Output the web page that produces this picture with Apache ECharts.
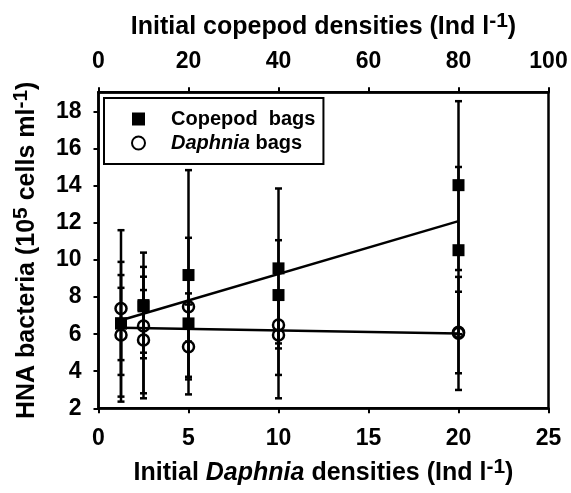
<!DOCTYPE html>
<html>
<head>
<meta charset="utf-8">
<script src="https://cdn.jsdelivr.net/npm/echarts@6/dist/echarts.min.js"></script>
<style>
  html, body { margin: 0; padding: 0; background: #fff; }
  #chart { width: 571px; height: 493px; }
</style>
</head>
<body>
<div id="chart"></div>
<script>
// copepod bags (top axis, Ind l-1)
var copepodDens = [5, 5, 10, 10, 20, 20, 40, 40, 80, 80];
var copepodVals = [6.58, 6.58, 7.57, 7.5, 9.19, 6.58, 9.55, 8.11, 14.04, 10.53];
var copepodLow  = [3.80, 4.60, 4.70, 5.0, 3.56, 5.6, 5.23, 5.50, 9.46, 6.0];
var copepodHigh = [9.90, 8.50, 10.40, 9.10, 14.85, 7.6, 13.86, 11.07, 18.57, 15.02];
var copepodFit  = [[5, 6.75], [80, 12.1]];

// Daphnia bags (bottom axis, Ind l-1)
var daphniaDens = [1.25, 1.25, 2.5, 2.5, 5, 5, 10, 10, 20, 20];
var daphniaVals = [7.39, 5.95, 6.44, 5.68, 7.48, 5.32, 6.49, 5.95, 6.10, 6.05];
var daphniaLow  = [2.63, 2.36, 2.54, 2.81, 3.70, 2.75, 2.54, 3.80, 2.99, 3.89];
var daphniaHigh = [11.61, 9.19, 9.63, 8.38, 11.20, 8.20, 8.10, 8.10, 9.09, 8.29];
var daphniaFit  = [[1.25, 6.35], [20, 6.04]];

var yTicks = [2, 4, 6, 8, 10, 12, 14, 16, 18];

var chart = echarts.init(document.getElementById('chart'));

function zip2(a, b) {
    return a.map(function (v, i) { return [v, b[i]]; });
}
function zip3(a, b, c) {
    return a.map(function (v, i) { return [v, b[i], c[i]]; });
}

var FONT = 'Liberation Sans, Arial, sans-serif';
var sup = { fontSize: 21, fontWeight: 'bold', fontFamily: FONT, color: '#000', padding: [0, 0, 12, 0] };

function renderErr(params, api) {
    var x = api.value(0);
    var lo = api.coord([x, api.value(1)]);
    var hi = api.coord([x, api.value(2)]);
    var w = 3.5;
    var st = { stroke: '#000', lineWidth: 2.5 };
    return {
        type: 'group',
        children: [
            { type: 'line', shape: { x1: hi[0], y1: hi[1], x2: lo[0], y2: lo[1] }, style: st },
            { type: 'line', shape: { x1: hi[0] - w, y1: hi[1], x2: hi[0] + w, y2: hi[1] }, style: st },
            { type: 'line', shape: { x1: lo[0] - w, y1: lo[1], x2: lo[0] + w, y2: lo[1] }, style: st }
        ]
    };
}

var axisLine = { show: true, lineStyle: { color: '#000', width: 2.5 } };
var axisTick = { show: true, inside: false, length: 5, lineStyle: { color: '#000', width: 2 } };
var labelStyle = { color: '#000', fontSize: 23, fontWeight: 'bold', fontFamily: FONT };
var nameStyle = { color: '#000', fontSize: 25, fontWeight: 'bold', fontFamily: FONT };

var opt = {
    animation: false,
    backgroundColor: '#fff',
    grid: {
        left: 98.5, right: 22.5, top: 92.3, bottom: 84.7,
        show: true, borderColor: '#000', borderWidth: 2.5, backgroundColor: 'transparent'
    },
    legend: {
        left: 104, top: 98,
        orient: 'vertical',
        borderColor: '#000', borderWidth: 2,
        padding: [11, 8, 11, 27],
        itemGap: 4,
        itemWidth: 13, itemHeight: 13,
        data: ['Copepod  bags', 'Daphnia bags'],
        formatter: function (name) {
            return name === 'Daphnia bags' ? '{i|Daphnia} bags' : name;
        },
        textStyle: {
            color: '#000', fontSize: 20, fontWeight: 'bold', fontFamily: FONT,
            padding: [0, 0, 0, 21],
            rich: { i: { fontStyle: 'italic', fontWeight: 'bold', fontSize: 20, fontFamily: FONT, color: '#000' } }
        }
    },
    xAxis: [
        {
            type: 'value', position: 'bottom', min: 0, max: 25, interval: 5,
            axisLine: axisLine, axisTick: axisTick, splitLine: { show: false },
            axisLabel: Object.assign({ margin: 19 }, labelStyle),
            name: 'Initial {i|Daphnia} densities (Ind l{s|-1})',
            nameLocation: 'middle', nameGap: 48,
            nameTextStyle: Object.assign({
                rich: {
                    i: Object.assign({ fontStyle: 'italic' }, nameStyle),
                    s: sup
                }
            }, nameStyle)
        },
        {
            type: 'value', position: 'top', min: 0, max: 100, interval: 20,
            axisLine: axisLine, axisTick: axisTick, splitLine: { show: false },
            axisLabel: Object.assign({ margin: 19 }, labelStyle),
            name: 'Initial copepod densities (Ind l{s|-1})',
            nameLocation: 'middle', nameGap: 49,
            nameTextStyle: Object.assign({ rich: { s: sup } }, nameStyle)
        }
    ],
    yAxis: {
        type: 'value', min: 2, max: 19.05,
        axisLine: axisLine,
        axisTick: Object.assign({ customValues: yTicks }, axisTick),
        splitLine: { show: false },
        axisLabel: Object.assign({ margin: 17, customValues: yTicks }, labelStyle),
        name: 'HNA bacteria (10{s|5} cells ml{s|-1})',
        nameLocation: 'middle', nameGap: 55,
        nameTextStyle: Object.assign({ rich: { s: sup } }, nameStyle)
    },
    series: [
        {
            type: 'custom', name: 'copErr', xAxisIndex: 1, renderItem: renderErr,
            encode: { x: 0, y: [1, 2] }, data: zip3(copepodDens, copepodLow, copepodHigh), z: 2
        },
        {
            type: 'custom', name: 'daphErr', xAxisIndex: 0, renderItem: renderErr,
            encode: { x: 0, y: [1, 2] }, data: zip3(daphniaDens, daphniaLow, daphniaHigh), z: 2
        },
        {
            type: 'line', name: 'copFit', xAxisIndex: 1, data: copepodFit, symbol: 'none',
            lineStyle: { color: '#000', width: 2.5 }, z: 3
        },
        {
            type: 'line', name: 'daphFit', xAxisIndex: 0, data: daphniaFit, symbol: 'none',
            lineStyle: { color: '#000', width: 2.5 }, z: 3
        },
        {
            type: 'scatter', name: 'Copepod  bags', xAxisIndex: 1, symbol: 'rect', symbolSize: 12,
            itemStyle: { color: '#000', opacity: 1 }, data: zip2(copepodDens, copepodVals), z: 4
        },
        {
            type: 'scatter', name: 'Daphnia bags', xAxisIndex: 0, symbol: 'circle', symbolSize: 11,
            itemStyle: { color: 'transparent', borderColor: '#000', borderWidth: 2.5, opacity: 1 },
            data: zip2(daphniaDens, daphniaVals), z: 5
        }
    ]
};

chart.setOption(opt, true);
</script>
</body>
</html>
